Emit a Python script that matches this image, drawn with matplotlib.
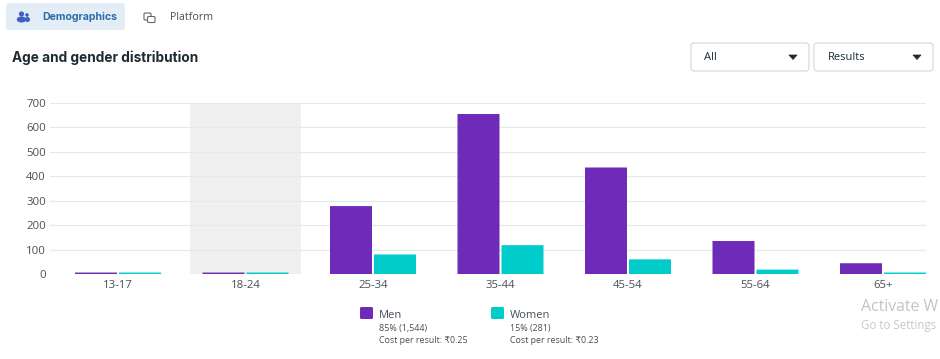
import matplotlib
matplotlib.use('Agg')
import matplotlib.pyplot as plt
from matplotlib.patches import FancyBboxPatch, Circle, Polygon, Ellipse
import numpy as np

plt.rcParams['font.family'] = ['Open Sans', 'DejaVu Sans']
BOLD_FONT = ['Inter', 'DejaVu Sans']

# Data
ages = ['13-17', '18-24', '25-34', '35-44', '45-54', '55-64', '65+']
men = [6, 6, 278, 655, 436, 135, 44]
women = [6, 6, 80, 118, 60, 18, 6]
y_ticks = [0, 100, 200, 300, 400, 500, 600, 700]
highlight = '18-24'

PURPLE = '#6D2BB8'
TEAL = '#00CCCC'
DARK = '#1C2B33'
GREY = '#465058'

W, H = 940, 359
fig = plt.figure(figsize=(W / 100, H / 100), dpi=100, facecolor='white')

# Main chart, axes placed in pixels
left, right, top, bottom = 50, 926, 103, 274
ax = fig.add_axes([left / W, 1 - bottom / H, (right - left) / W, (bottom - top) / H])
step = 127.5
x = np.arange(len(ages))
ax.set_xlim((left - 118) / step, (right - 118) / step)
ax.set_ylim(0, 700)

bw = 42 / step
off = 22 / step
ax.axvspan(ages.index(highlight) - 0.435, ages.index(highlight) + 0.435, color='#F0F0F0', lw=0, zorder=0)
ax.bar(x - off, men, bw, color=PURPLE, lw=0, snap=False, zorder=3)
ax.bar(x + off, women, bw, color=TEAL, lw=0, snap=False, zorder=3)

ax.set_yticks(y_ticks)
ax.set_xticks(x, ages)
ax.tick_params(length=0, labelsize=8.2, labelcolor=GREY)
ax.tick_params(axis='y', pad=3)
ax.tick_params(axis='x', pad=4)
ax.grid(axis='y', color='#E6E8EA', lw=0.9, zorder=1)
ax.set_axisbelow(True)
for s in ax.spines.values():
    s.set_visible(False)

# Page furniture in pixel coordinates
ui = fig.add_axes([0, 0, 1, 1], zorder=5)
ui.set_xlim(0, W)
ui.set_ylim(H, 0)
ui.axis('off')
ui.patch.set_alpha(0)

# Tabs
ui.add_patch(FancyBboxPatch((6, 3), 119, 27, boxstyle='round,pad=0,rounding_size=3', fc='#E3EDF6', ec='none'))
blue = '#3F5FC4'
ui.add_patch(Circle((21.5, 14), 2.6, fc=blue, ec='none'))
ui.add_patch(Ellipse((21.5, 19.5), 9.5, 6, fc=blue, ec='none'))
ui.add_patch(Circle((27, 15), 1.8, fc=blue, ec='none'))
ui.add_patch(Ellipse((27.5, 19.5), 5, 5, fc=blue, ec='none'))
ui.text(42, 17.5, 'Demographics', fontsize=7.6, fontweight='bold', family=BOLD_FONT, color='#2C6CA8', va='center')
ui.add_patch(FancyBboxPatch((144, 13), 7, 7, boxstyle='round,pad=0,rounding_size=1.2', fc='none', ec='#666666', lw=0.8))
ui.add_patch(FancyBboxPatch((147.5, 16.5), 7.5, 6, boxstyle='round,pad=0,rounding_size=1.2', fc='white', ec='#666666', lw=0.8))
ui.text(170, 18, 'Platform', fontsize=7.7, color=GREY, va='center')

ui.text(12, 58, 'Age and gender distribution', fontsize=9.8, fontweight='bold', family=BOLD_FONT, color=DARK, va='center')

# Dropdowns
for bx, bw_px, label, lx, ax_px in [(691, 118, 'All', 704, 793), (814, 119, 'Results', 828, 917)]:
    ui.add_patch(FancyBboxPatch((bx, 43), bw_px, 28, boxstyle='round,pad=0,rounding_size=3', fc='white', ec='#CDD2D6', lw=0.7))
    ui.text(lx, 58, label, fontsize=8, color=DARK, va='center')
    ui.add_patch(Polygon([(ax_px - 4, 55), (ax_px + 4, 55), (ax_px, 59.5)], fc=DARK, ec=DARK, lw=0.5, joinstyle='round'))

# Legend
for lx, color, name, share, cost in [(360, PURPLE, 'Men', '85% (1,544)', 'Cost per result: ₹0.25'),
                                     (491, TEAL, 'Women', '15% (281)', 'Cost per result: ₹0.23')]:
    ui.add_patch(FancyBboxPatch((lx, 307), 13, 12, boxstyle='round,pad=0,rounding_size=1.5', fc=color, ec='none'))
    ui.text(lx + 19, 315, name, fontsize=8, color=GREY, va='center')
    ui.text(lx + 19, 328.5, share, fontsize=6.4, color=GREY, va='center')
    ui.text(lx + 19, 340.5, cost, fontsize=6.4, color=GREY, va='center')

# Windows watermark, only the part that shows on the screenshot
ui.text(861, 307, 'Activate W', fontsize=11.4, color='#C4C4C4', va='center')
ui.text(861, 326, 'Go to Settings', fontsize=8.3, color='#C8C8C8', va='center')

fig.savefig('out.png', dpi=100)
